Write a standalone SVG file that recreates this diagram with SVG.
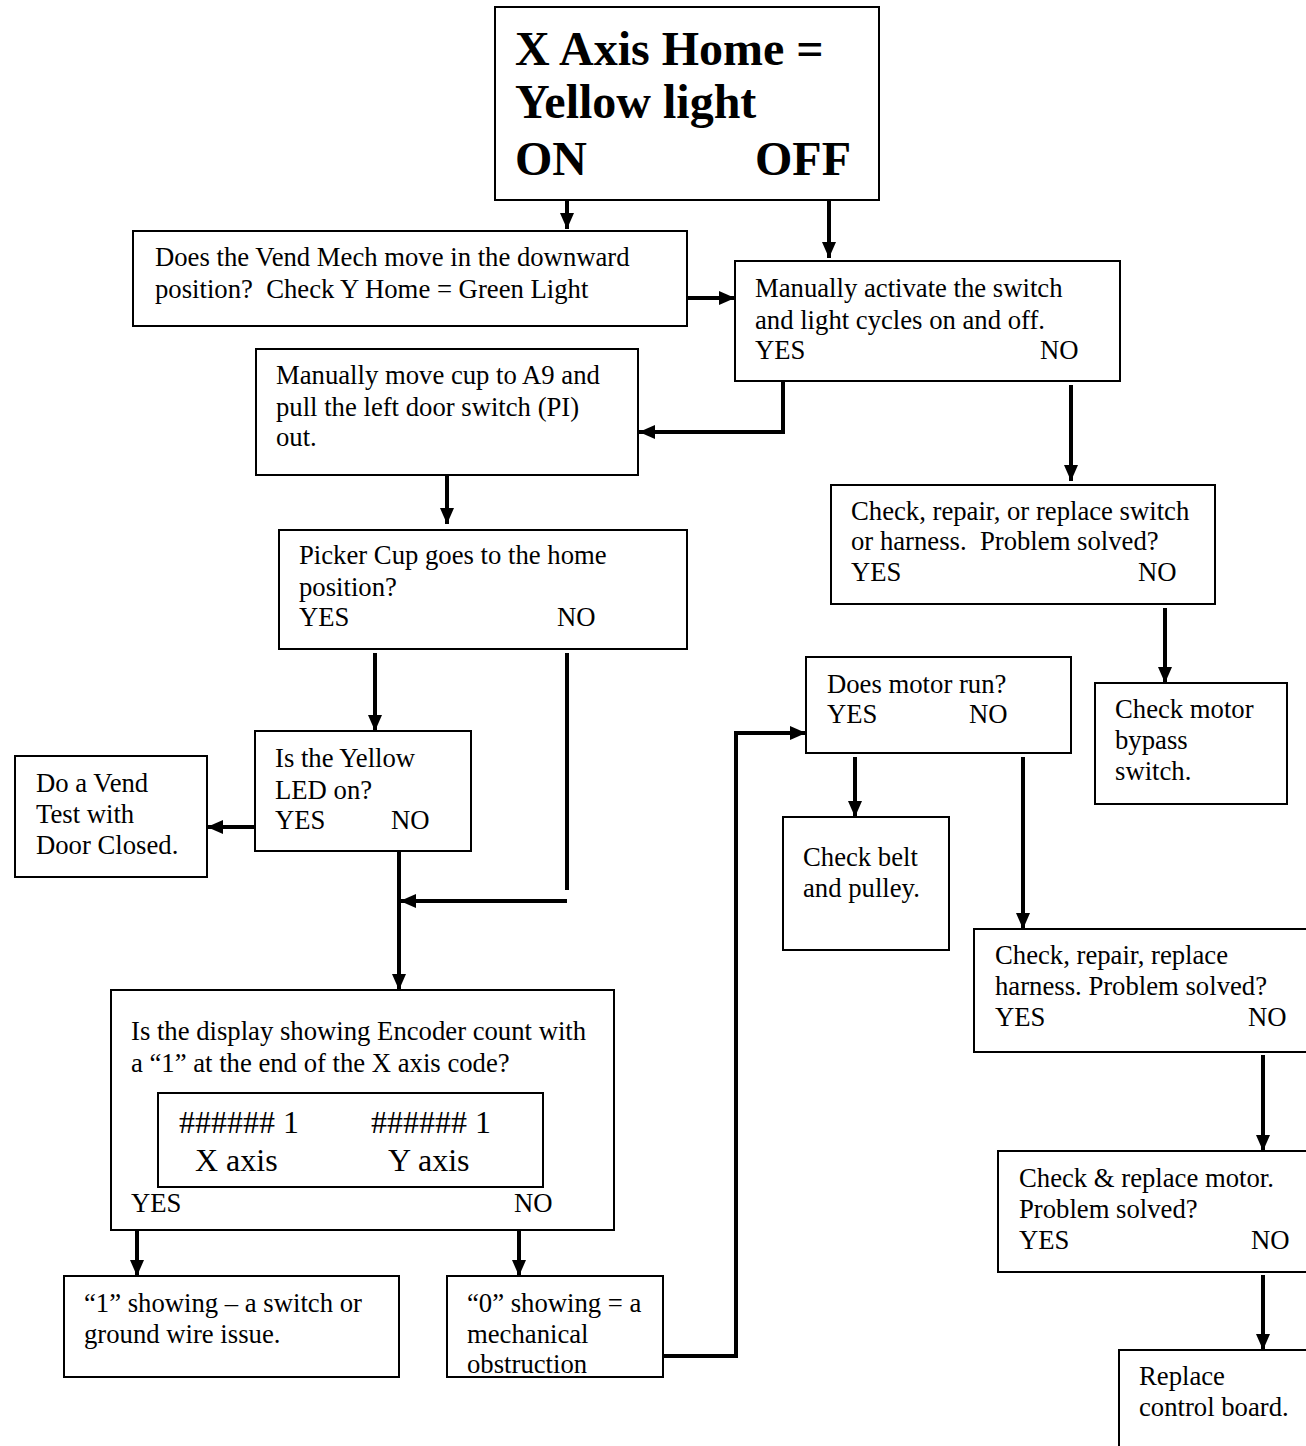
<svg xmlns="http://www.w3.org/2000/svg" width="1306" height="1446" viewBox="0 0 1306 1446">
<defs>
<marker id="ah" markerUnits="userSpaceOnUse" markerWidth="16" markerHeight="16" refX="16" refY="8" orient="auto" viewBox="0 0 16 16">
<path d="M0,1 L16,8 L0,15 z" fill="#000"/>
</marker>
</defs>
<style>
.box{fill:#fff;stroke:#000;stroke-width:2}
.t{font-family:"Liberation Serif","Times New Roman",serif;font-size:26.7px;fill:#000}
.big{font-family:"Liberation Serif","Times New Roman",serif;font-size:48px;font-weight:bold;fill:#000}
.mid{font-family:"Liberation Serif","Times New Roman",serif;font-size:32px;fill:#000}
.c{fill:none;stroke:#000;stroke-width:4}
.ca{fill:none;stroke:#000;stroke-width:4;marker-end:url(#ah)}
</style>
<rect width="1306" height="1446" fill="#fff"/>

<g id="connectors">
<path class="ca" d="M567,200 V229"/>
<path class="ca" d="M829,200 V258"/>
<path class="ca" d="M687,298 H735"/>
<path class="ca" d="M783,381 V432 H639"/>
<path class="ca" d="M447,475 V524"/>
<path class="ca" d="M1071,385 V481"/>
<path class="ca" d="M1165,608 V683"/>
<path class="ca" d="M375,653 V731"/>
<path class="ca" d="M255,827 H207"/>
<path class="c" d="M567,653 V890"/>
<path class="ca" d="M567,901 H400"/>
<path class="ca" d="M399,851 V990"/>
<path class="ca" d="M137,1230 V1276"/>
<path class="ca" d="M519,1230 V1276"/>
<path class="ca" d="M663,1356 H736 V733 H806"/>
<path class="ca" d="M855,757 V817"/>
<path class="ca" d="M1023,757 V929"/>
<path class="ca" d="M1263,1055 V1151"/>
<path class="ca" d="M1263,1275 V1350"/>
</g>

<g id="n-xhome">
<rect class="box" x="495" y="7" width="384" height="193"/>
<text class="big" x="515" y="65">X Axis Home =</text>
<text class="big" x="515" y="118">Yellow light</text>
<text class="big" x="515" y="175">ON</text>
<text class="big" x="755" y="175">OFF</text>
</g>

<g id="n-vendmech">
<rect class="box" x="133" y="231" width="554" height="95"/>
<text class="t" x="155" y="266">Does the Vend Mech move in the downward</text>
<text class="t" x="155" y="298" xml:space="preserve">position?  Check Y Home = Green Light</text>
</g>

<g id="n-activate">
<rect class="box" x="735" y="261" width="385" height="120"/>
<text class="t" x="755" y="297">Manually activate the switch</text>
<text class="t" x="755" y="329">and light cycles on and off.</text>
<text class="t" x="755" y="359">YES</text>
<text class="t" x="1040" y="359">NO</text>
</g>

<g id="n-movecup">
<rect class="box" x="256" y="349" width="382" height="126"/>
<text class="t" x="276" y="384">Manually move cup to A9 and</text>
<text class="t" x="276" y="416">pull the left door switch (PI)</text>
<text class="t" x="276" y="446">out.</text>
</g>

<g id="n-checkswitch">
<rect class="box" x="831" y="485" width="384" height="119"/>
<text class="t" x="851" y="520">Check, repair, or replace switch</text>
<text class="t" x="851" y="550" xml:space="preserve">or harness.  Problem solved?</text>
<text class="t" x="851" y="581">YES</text>
<text class="t" x="1138" y="581">NO</text>
</g>

<g id="n-bypass">
<rect class="box" x="1095" y="683" width="192" height="121"/>
<text class="t" x="1115" y="718">Check motor</text>
<text class="t" x="1115" y="749">bypass</text>
<text class="t" x="1115" y="780">switch.</text>
</g>

<g id="n-picker">
<rect class="box" x="279" y="530" width="408" height="119"/>
<text class="t" x="299" y="564">Picker Cup goes to the home</text>
<text class="t" x="299" y="596">position?</text>
<text class="t" x="299" y="626">YES</text>
<text class="t" x="557" y="626">NO</text>
</g>

<g id="n-yellowled">
<rect class="box" x="255" y="731" width="216" height="120"/>
<text class="t" x="275" y="767">Is the Yellow</text>
<text class="t" x="275" y="799">LED on?</text>
<text class="t" x="275" y="829">YES</text>
<text class="t" x="391" y="829">NO</text>
</g>

<g id="n-vendtest">
<rect class="box" x="15" y="756" width="192" height="121"/>
<text class="t" x="36" y="792">Do a Vend</text>
<text class="t" x="36" y="823">Test with</text>
<text class="t" x="36" y="854">Door Closed.</text>
</g>

<g id="n-display">
<rect class="box" x="111" y="990" width="503" height="240"/>
<text class="t" x="131" y="1040">Is the display showing Encoder count with</text>
<text class="t" x="131" y="1072">a “1” at the end of the X axis code?</text>
<rect class="box" x="158" y="1093" width="385" height="94"/>
<text class="mid" x="179" y="1133">###### 1</text>
<text class="mid" x="371" y="1133">###### 1</text>
<text class="mid" x="195" y="1171">X axis</text>
<text class="mid" x="388" y="1171">Y axis</text>
<text class="t" x="131" y="1212">YES</text>
<text class="t" x="514" y="1212">NO</text>
</g>

<g id="n-one">
<rect class="box" x="64" y="1276" width="335" height="101"/>
<text class="t" x="84" y="1312">“1” showing – a switch or</text>
<text class="t" x="84" y="1343">ground wire issue.</text>
</g>

<g id="n-zero">
<rect class="box" x="447" y="1276" width="216" height="101"/>
<text class="t" x="467" y="1312">“0” showing = a</text>
<text class="t" x="467" y="1343">mechanical</text>
<text class="t" x="467" y="1373">obstruction</text>
</g>

<g id="n-motorrun">
<rect class="box" x="806" y="657" width="265" height="96"/>
<text class="t" x="827" y="693">Does motor run?</text>
<text class="t" x="827" y="723">YES</text>
<text class="t" x="969" y="723">NO</text>
</g>

<g id="n-belt">
<rect class="box" x="783" y="817" width="166" height="133"/>
<text class="t" x="803" y="866">Check belt</text>
<text class="t" x="803" y="897">and pulley.</text>
</g>

<g id="n-harness">
<rect class="box" x="974" y="929" width="345" height="123"/>
<text class="t" x="995" y="964">Check, repair, replace</text>
<text class="t" x="995" y="995">harness. Problem solved?</text>
<text class="t" x="995" y="1026">YES</text>
<text class="t" x="1248" y="1026">NO</text>
</g>

<g id="n-motor">
<rect class="box" x="998" y="1151" width="321" height="121"/>
<text class="t" x="1019" y="1187">Check &amp; replace motor.</text>
<text class="t" x="1019" y="1218">Problem solved?</text>
<text class="t" x="1019" y="1249">YES</text>
<text class="t" x="1251" y="1249">NO</text>
</g>

<g id="n-board">
<rect class="box" x="1119" y="1350" width="200" height="120"/>
<text class="t" x="1139" y="1385">Replace</text>
<text class="t" x="1139" y="1416">control board.</text>
</g>
</svg>
